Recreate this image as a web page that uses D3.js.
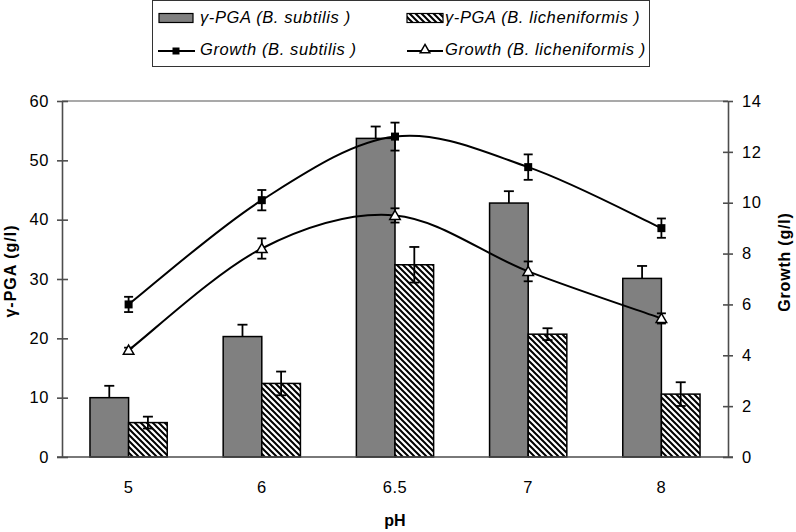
<!DOCTYPE html>
<html>
<head>
<meta charset="utf-8">
<script src="https://cdn.jsdelivr.net/npm/d3@7"></script>
<style>
  html, body { margin: 0; padding: 0; background: #fff; }
  svg { display: block; font-family: "Liberation Sans", Arial, sans-serif; }
</style>
</head>
<body>
<svg id="chart" width="796" height="532"></svg>
<script>
// ---- Data ----
const categories = ["5", "6", "6.5", "7", "8"];
const pgaSubtilis = [10.0, 20.3, 53.7, 42.8, 30.1];
const pgaSubtilisErr = [2.0, 2.0, 2.0, 2.0, 2.1];
const pgaLicheniformis = [5.8, 12.4, 32.4, 20.7, 10.6];
const pgaLicheniformisErr = [1.0, 2.0, 3.0, 1.0, 2.0];
const growthSubtilis = [6.0, 10.1, 12.6, 11.4, 9.0];
const growthSubtilisErr = [0.3, 0.4, 0.55, 0.5, 0.38];
const growthLicheniformis = [4.2, 8.2, 9.5, 7.3, 5.45];
const growthLicheniformisErr = [0.1, 0.4, 0.28, 0.39, 0.2];
const leftTicks = [0, 10, 20, 30, 40, 50, 60];
const rightTicks = [0, 2, 4, 6, 8, 10, 12, 14];

const svg = d3.select("#chart");
const L = 62, R = 728, T = 101, B = 457;

// Excel-style smoothed curve (Bezier, 1/6 tangents, chord tangents at ends)
function ExcelSmooth(context) { this._context = context; }
ExcelSmooth.prototype = {
  areaStart() {}, areaEnd() {},
  lineStart() { this._pts = []; },
  point(x, y) { this._pts.push([+x, +y]); },
  lineEnd() {
    const p = this._pts, n = p.length, c = this._context;
    if (!n) return;
    c.moveTo(p[0][0], p[0][1]);
    for (let i = 0; i < n - 1; i++) {
      const a = p[Math.max(i - 1, 0)], b = p[i], d = p[i + 1], e = p[Math.min(i + 2, n - 1)];
      c.bezierCurveTo(
        b[0] + (d[0] - a[0]) / 6, b[1] + (d[1] - a[1]) / 6,
        d[0] - (e[0] - b[0]) / 6, d[1] - (e[1] - b[1]) / 6,
        d[0], d[1]);
    }
  }
};
const excelCurve = ctx => new ExcelSmooth(ctx);

// pattern
const defs = svg.append("defs");
const pat = defs.append("pattern").attr("id", "hatch")
  .attr("patternUnits", "userSpaceOnUse").attr("width", 6).attr("height", 6);
pat.append("rect").attr("width", 6).attr("height", 6).attr("fill", "#fff");
pat.append("path").attr("d", "M-1,-1 L7,7 M-1,5 L1,7 M5,-1 L7,1")
  .attr("stroke", "#000").attr("stroke-width", 2);

const x = d3.scaleBand().domain(categories).range([L, R]).padding(0);
const groupW = x.bandwidth() * 0.58;
const xs = d3.scaleBand().domain(["sub", "lich"]).range([0, groupW]);
const yL = d3.scaleLinear().domain([0, 60]).range([B, T]);
const yR = d3.scaleLinear().domain([0, 14]).range([B, T]);
const cx = c => x(c) + x.bandwidth() / 2;
const gx = c => cx(c) - groupW / 2;

// top plot border
svg.append("line").attr("x1", L).attr("x2", R).attr("y1", T).attr("y2", T)
  .attr("stroke", "#8c8c8c").attr("stroke-width", 1.5);

// bars
const bars = svg.append("g");
categories.forEach((c, i) => {
  bars.append("rect").attr("x", gx(c) + xs("sub")).attr("y", yL(pgaSubtilis[i]))
    .attr("width", xs.bandwidth()).attr("height", B - yL(pgaSubtilis[i]))
    .attr("fill", "#808080").attr("stroke", "#000").attr("stroke-width", 1.5);
  bars.append("rect").attr("x", gx(c) + xs("lich")).attr("y", yL(pgaLicheniformis[i]))
    .attr("width", xs.bandwidth()).attr("height", B - yL(pgaLicheniformis[i]))
    .attr("fill", "url(#hatch)").attr("stroke", "#000").attr("stroke-width", 1.5);
});

function errBar(g, px, v, e, scale, cap, plusOnly) {
  const lo = plusOnly ? v : v - e;
  g.append("line").attr("x1", px).attr("x2", px).attr("y1", scale(lo)).attr("y2", scale(v + e))
    .attr("stroke", "#000").attr("stroke-width", 1.8);
  (plusOnly ? [v + e] : [v - e, v + e]).forEach(val => {
    g.append("line").attr("x1", px - cap / 2).attr("x2", px + cap / 2)
      .attr("y1", scale(val)).attr("y2", scale(val))
      .attr("stroke", "#000").attr("stroke-width", 1.8);
  });
}
const eb = svg.append("g");
categories.forEach((c, i) => {
  errBar(eb, gx(c) + xs("sub") + xs.bandwidth() / 2, pgaSubtilis[i], pgaSubtilisErr[i], yL, 10, true);
  errBar(eb, gx(c) + xs("lich") + xs.bandwidth() / 2, pgaLicheniformis[i], pgaLicheniformisErr[i], yL, 10, false);
});

// lines
const line = d3.line().x(d => cx(d[0])).y(d => yR(d[1])).curve(excelCurve);
svg.append("path").datum(categories.map((c, i) => [c, growthSubtilis[i]]))
  .attr("d", line).attr("fill", "none").attr("stroke", "#000").attr("stroke-width", 2);
svg.append("path").datum(categories.map((c, i) => [c, growthLicheniformis[i]]))
  .attr("d", line).attr("fill", "none").attr("stroke", "#000").attr("stroke-width", 2);

const gb = svg.append("g");
categories.forEach((c, i) => {
  errBar(gb, cx(c), growthSubtilis[i], growthSubtilisErr[i], yR, 9, false);
  errBar(gb, cx(c), growthLicheniformis[i], growthLicheniformisErr[i], yR, 9, false);
});
categories.forEach((c, i) => {
  gb.append("rect").attr("x", cx(c) - 4).attr("y", yR(growthSubtilis[i]) - 4)
    .attr("width", 8).attr("height", 8).attr("fill", "#000");
  gb.append("path").attr("d", d3.symbol(d3.symbolTriangle, 48)())
    .attr("transform", `translate(${cx(c)},${yR(growthLicheniformis[i]) + 1})`)
    .attr("fill", "#fff").attr("stroke", "#000").attr("stroke-width", 1.5);
});

// axes
const axisColor = "#4d4d4d";
const gL = svg.append("g").attr("transform", `translate(${L},0)`)
  .call(d3.axisLeft(yL).tickValues(leftTicks).tickSizeInner(5).tickSizeOuter(0).tickPadding(8));
gL.selectAll(".tick line").attr("x1", 6);
const gR = svg.append("g").attr("transform", `translate(${R},0)`)
  .call(d3.axisRight(yR).tickValues(rightTicks).tickSizeInner(5).tickSizeOuter(0).tickPadding(9));
gR.selectAll(".tick line").attr("x1", -5);
const gB = svg.append("g").attr("transform", `translate(0,${B})`)
  .call(d3.axisBottom(x).tickSize(0).tickPadding(24));
gB.select(".domain").attr("d", `M${L - 5},0H${R + 5}`);
[gL, gR, gB].forEach(g => {
  g.selectAll(".domain, .tick line").attr("stroke", axisColor).attr("stroke-width", 1.6);
  g.selectAll("text").attr("font-size", 16.5).attr("fill", "#000").attr("letter-spacing", 0.6)
    .attr("font-family", "Liberation Sans, Arial, sans-serif");
});

// titles
svg.append("text").attr("transform", "translate(16,271) rotate(-90)")
  .attr("text-anchor", "middle").attr("font-size", 16).attr("font-weight", "bold")
  .attr("letter-spacing", 1).text("γ-PGA (g/l)");
svg.append("text").attr("transform", "translate(790,262) rotate(-90)")
  .attr("text-anchor", "middle").attr("font-size", 16).attr("font-weight", "bold")
  .attr("letter-spacing", 0.8).text("Growth (g/l)");
svg.append("text").attr("x", (L + R) / 2).attr("y", 526)
  .attr("text-anchor", "middle").attr("font-size", 16).attr("font-weight", "bold").text("pH");

// legend
const lg = svg.append("g");
lg.append("rect").attr("x", 152.5).attr("y", 0.5).attr("width", 497).attr("height", 66)
  .attr("fill", "#fff").attr("stroke", "#333").attr("stroke-width", 1);
lg.append("rect").attr("x", 159).attr("y", 13.5).attr("width", 34).attr("height", 9)
  .attr("fill", "#808080").attr("stroke", "#000").attr("stroke-width", 1.2);
lg.append("rect").attr("x", 407).attr("y", 13.5).attr("width", 36).attr("height", 9)
  .attr("fill", "url(#hatch)").attr("stroke", "#000").attr("stroke-width", 1.2);
lg.append("line").attr("x1", 158).attr("x2", 195).attr("y1", 51).attr("y2", 51)
  .attr("stroke", "#000").attr("stroke-width", 2);
lg.append("rect").attr("x", 172.5).attr("y", 47.5).attr("width", 7).attr("height", 7).attr("fill", "#000");
lg.append("line").attr("x1", 407).attr("x2", 443).attr("y1", 51).attr("y2", 51)
  .attr("stroke", "#000").attr("stroke-width", 2);
lg.append("path").attr("d", d3.symbol(d3.symbolTriangle, 40)())
  .attr("transform", "translate(425,50)")
  .attr("fill", "#fff").attr("stroke", "#000").attr("stroke-width", 1.5);
const legendTexts = [
  [200, 23, "γ-PGA (B. subtilis )"],
  [445, 23, "γ-PGA (B. licheniformis )"],
  [200, 55, "Growth (B. subtilis )"],
  [445, 55, "Growth (B. licheniformis )"]
];
legendTexts.forEach(([tx, ty, t]) => {
  lg.append("text").attr("x", tx).attr("y", ty).attr("font-size", 16.5)
    .attr("letter-spacing", 0.6).attr("font-style", "italic").text(t);
});
</script>
</body>
</html>
